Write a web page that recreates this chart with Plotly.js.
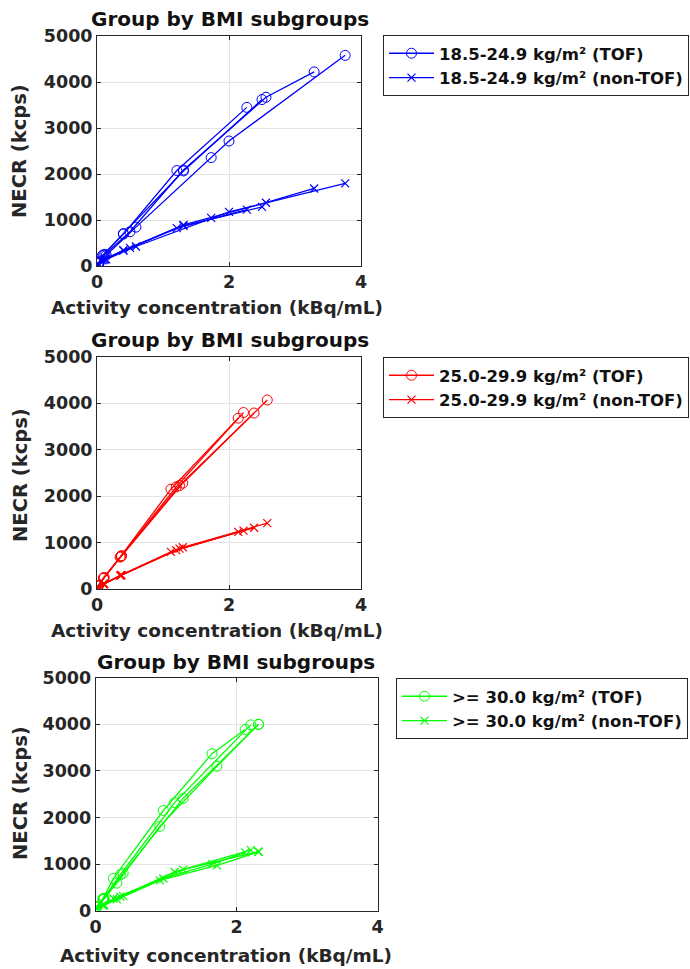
<!DOCTYPE html>
<html>
<head>
<meta charset="utf-8">
<script src="https://cdn.plot.ly/plotly-3.0.1.min.js"></script>
<style>
html,body{margin:0;padding:0;background:#fff;}
#chart{width:690px;height:969px;}
</style>
</head>
<body>
<div id="chart"></div>
<script>
// ---- text ----
const panelTitle = 'Group by BMI subgroups';
const xLabel = 'Activity concentration (kBq/mL)';
const yLabel = 'NECR (kcps)';
const xTickVals = [0, 2, 4];
const yTickVals = [0, 1000, 2000, 3000, 4000, 5000];

// ---- panel 1: 18.5-24.9 kg/m2 (blue) ----
const bmi1Names = ['18.5-24.9 kg/m² (TOF)', '18.5-24.9 kg/m² (non-TOF)'];
const bmi1Activity = [
  [0.02, 0.08, 0.40, 1.21, 2.27],
  [0.02, 0.10, 0.40, 1.31, 2.50],
  [0.03, 0.12, 0.50, 1.31, 2.56, 3.29],
  [0.03, 0.14, 0.59, 1.73, 2.00, 3.76]
];
const bmi1TOF = [
  [60, 230, 700, 2080, 3450],
  [70, 250, 710, 2070, 3620],
  [80, 260, 750, 2090, 3670, 4220],
  [70, 240, 850, 2360, 2720, 4580]
];
const bmi1NonTOF = [
  [30, 130, 340, 830, 1230],
  [30, 140, 350, 880, 1290],
  [35, 150, 400, 900, 1380, 1690],
  [35, 150, 430, 1050, 1180, 1800]
];

// ---- panel 2: 25.0-29.9 kg/m2 (red) ----
const bmi2Names = ['25.0-29.9 kg/m² (TOF)', '25.0-29.9 kg/m² (non-TOF)'];
const bmi2Activity = [
  [0.02, 0.10, 0.37, 1.30, 2.58],
  [0.02, 0.10, 0.36, 1.25, 2.38],
  [0.02, 0.11, 0.37, 1.20, 2.22],
  [0.02, 0.10, 0.35, 1.12, 2.14]
];
const bmi2TOF = [
  [80, 240, 710, 2280, 4070],
  [70, 230, 700, 2230, 3790],
  [80, 250, 720, 2200, 3800],
  [70, 240, 690, 2150, 3680]
];
const bmi2NonTOF = [
  [40, 110, 300, 900, 1420],
  [40, 110, 300, 870, 1320],
  [40, 110, 300, 840, 1260],
  [40, 110, 290, 800, 1230]
];

// ---- panel 3: >= 30.0 kg/m2 (green) ----
const bmi3Names = ['>= 30.0 kg/m² (TOF)', '>= 30.0 kg/m² (non-TOF)'];
const bmi3Activity = [
  [0.01, 0.10, 0.25, 0.96, 1.65, 2.12],
  [0.01, 0.11, 0.30, 0.91, 1.72, 2.31],
  [0.01, 0.11, 0.35, 1.12, 2.20],
  [0.02, 0.12, 0.39, 1.24, 2.31]
];
const bmi3TOF = [
  [80, 250, 690, 2150, 3370, 3890],
  [70, 240, 590, 1810, 3100, 4000],
  [80, 260, 770, 2320, 3990],
  [80, 260, 800, 2410, 4000]
];
const bmi3NonTOF = [
  [40, 120, 260, 690, 1000, 1250],
  [35, 110, 240, 650, 970, 1260],
  [40, 120, 300, 830, 1300],
  [40, 120, 310, 880, 1270]
];

// ---- build ----
const FONT = 'DejaVu Sans, Verdana, sans-serif';
const TXT = '#262626';
const W = 690, H = 969;

const panels = [
  {act: bmi1Activity, tof: bmi1TOF, non: bmi1NonTOF, names: bmi1Names, color: '#0000ff',
   box: {l: 97, r: 361, t: 36, b: 266.3}, legend: {x: 383, y: 35},
   title: {x: 230, y: 19}, ylab: {x: 20, y: 151}, xlab: {x: 217, y: 307}},
  {act: bmi2Activity, tof: bmi2TOF, non: bmi2NonTOF, names: bmi2Names, color: '#ff0000',
   box: {l: 97, r: 361, t: 356.8, b: 589.1}, legend: {x: 383, y: 357},
   title: {x: 230, y: 340}, ylab: {x: 20, y: 475}, xlab: {x: 217, y: 630}},
  {act: bmi3Activity, tof: bmi3TOF, non: bmi3NonTOF, names: bmi3Names, color: '#00ff00',
   box: {l: 95.7, r: 377.7, t: 677.8, b: 910.6}, legend: {x: 396, y: 678},
   title: {x: 236, y: 662}, ylab: {x: 20, y: 793}, xlab: {x: 226, y: 955}}
];

const traces = [];
const layout = {
  width: W, height: H,
  margin: {l: 0, r: 0, t: 0, b: 0, pad: 0},
  paper_bgcolor: '#ffffff', plot_bgcolor: '#ffffff',
  showlegend: true,
  font: {family: FONT, color: TXT, size: 17, weight: 'bold'},
  annotations: []
};

panels.forEach((p, i) => {
  const n = i === 0 ? '' : String(i + 1);
  const xa = 'x' + n, ya = 'y' + n;
  const legName = i === 0 ? 'legend' : 'legend' + (i + 1);
  p.act.forEach((xs, k) => {
    traces.push({
      x: xs, y: p.tof[k], xaxis: xa, yaxis: ya, type: 'scatter', mode: 'lines+markers',
      name: p.names[0], legend: legName, showlegend: k === 0, legendgroup: 'tof' + i,
      line: {color: p.color, width: 1.3},
      marker: {symbol: 'circle-open', size: 10, color: p.color, line: {width: 1, color: p.color}}
    });
  });
  p.act.forEach((xs, k) => {
    traces.push({
      x: xs, y: p.non[k], xaxis: xa, yaxis: ya, type: 'scatter', mode: 'lines+markers',
      name: p.names[1], legend: legName, showlegend: k === 0, legendgroup: 'non' + i,
      line: {color: p.color, width: 1.3},
      marker: {symbol: 'x-thin-open', size: 8, color: p.color, line: {width: 1.2, color: p.color}}
    });
  });
  const axCommon = {
    showline: true, linecolor: TXT, linewidth: 1, mirror: 'ticks',
    ticks: 'inside', ticklen: 4, tickcolor: TXT, tickwidth: 1,
    showgrid: true, gridcolor: '#e3e3e3', gridwidth: 1, zeroline: false,
    tickfont: {family: FONT, size: 17.5, color: TXT, weight: 'bold'}
  };
  layout['xaxis' + n] = Object.assign({}, axCommon, {
    domain: [p.box.l / W, p.box.r / W], anchor: ya, range: [0, 4],
    tickmode: 'array', tickvals: xTickVals, ticktext: xTickVals.map(String)
  });
  layout['yaxis' + n] = Object.assign({}, axCommon, {
    domain: [1 - p.box.b / H, 1 - p.box.t / H], anchor: xa, range: [0, 5000],
    tickmode: 'array', tickvals: yTickVals, ticktext: yTickVals.map(String)
  });
  layout[legName] = {
    x: p.legend.x / W, y: 1 - p.legend.y / H, xanchor: 'left', yanchor: 'top',
    xref: 'paper', yref: 'paper',
    bgcolor: '#ffffff', bordercolor: TXT, borderwidth: 1,
    font: {family: FONT, size: 16.5, color: '#111', weight: 'bold'},
    itemwidth: 45, tracegroupgap: 0
  };
  layout.annotations.push(
    {text: panelTitle, x: p.title.x / W, y: 1 - p.title.y / H, xref: 'paper', yref: 'paper',
     showarrow: false, xanchor: 'center', yanchor: 'middle',
     font: {family: FONT, size: 20, color: '#111', weight: 'bold'}},
    {text: yLabel, x: p.ylab.x / W, y: 1 - p.ylab.y / H, xref: 'paper', yref: 'paper',
     showarrow: false, xanchor: 'center', yanchor: 'middle', textangle: -90,
     font: {family: FONT, size: 19.5, color: TXT, weight: 'bold'}},
    {text: xLabel, x: p.xlab.x / W, y: 1 - p.xlab.y / H, xref: 'paper', yref: 'paper',
     showarrow: false, xanchor: 'center', yanchor: 'middle',
     font: {family: FONT, size: 18.5, color: TXT, weight: 'bold'}}
  );
});

Plotly.newPlot('chart', traces, layout, {staticPlot: true, displayModeBar: false});
</script>
</body>
</html>
